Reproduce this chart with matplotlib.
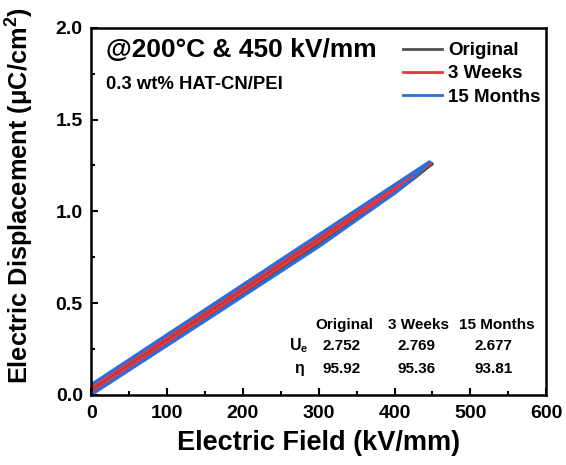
import matplotlib
matplotlib.use("Agg")
import matplotlib.pyplot as plt
from matplotlib.ticker import MultipleLocator

plt.rcParams.update({
    "font.family": ["Liberation Sans", "DejaVu Sans"],
    "font.weight": "bold",
    "mathtext.default": "regular",
})

# D-E loops: charge branch up to E_max, discharge branch back to zero field
labels = ["Original", "3 Weeks", "15 Months"]
colors = ["#505050", "#e8353b", "#2a6ede"]
E_charge = [[0, 150, 300, 400, 425, 450],
            [0, 150, 300, 400, 425, 448],
            [0, 150, 300, 400, 425, 446]]
D_charge = [[0.004, 0.412, 0.822, 1.100, 1.177, 1.260],
            [0.013, 0.424, 0.836, 1.115, 1.189, 1.265],
            [0.000, 0.402, 0.807, 1.098, 1.183, 1.270]]
E_discharge = [[450, 0], [448, 0], [446, 0]]
D_discharge = [[1.260, 0.030], [1.265, 0.038], [1.270, 0.055]]

# Energy storage summary
col_heads = ["Original", "3 Weeks", "15 Months"]
U_e = ["2.752", "2.769", "2.677"]
eta = ["95.92", "95.36", "93.81"]

fig = plt.figure(figsize=(5.66, 4.65), dpi=100)
ax = fig.add_axes([0.161, 0.151, 0.804, 0.789])

for lab, c, ec, dc, ed, dd in zip(labels, colors, E_charge, D_charge,
                                   E_discharge, D_discharge):
    ax.plot(ec + ed, dc + dd, color=c, lw=2.2, label=lab,
            solid_joinstyle="round")

ax.set_xlim(0, 600)
ax.set_ylim(0, 2.0)
ax.xaxis.set_major_locator(MultipleLocator(100))
ax.xaxis.set_minor_locator(MultipleLocator(50))
ax.yaxis.set_major_locator(MultipleLocator(0.5))
ax.yaxis.set_minor_locator(MultipleLocator(0.25))
ax.tick_params(which="both", direction="in", width=1.5, labelsize=14)
ax.tick_params(axis="x", pad=7)
ax.tick_params(axis="y", pad=6)
ax.tick_params(which="major", length=5)
ax.tick_params(which="minor", length=3)
for s in ax.spines.values():
    s.set_linewidth(1.8)
for t in ax.get_xticklabels() + ax.get_yticklabels():
    t.set_fontweight("bold")

ax.set_xlabel("Electric Field (kV/mm)", fontsize=19.5, fontweight="bold")
ax.set_ylabel("Electric Displacement (μC/cm$^2$)", fontsize=18.3,
              fontweight="bold")
ax.xaxis.set_label_coords(0.5, -0.097)
ax.yaxis.set_label_coords(-0.122, 0.542)

ax.text(20, 1.88, "@200°C & 450 kV/mm", fontsize=19, fontweight="bold",
        va="center", ha="left")
ax.text(20, 1.69, "0.3 wt% HAT-CN/PEI", fontsize=13.3, fontweight="bold",
        va="center", ha="left")

leg = ax.legend(loc="upper left", frameon=False, fontsize=13.5,
                handlelength=2.1, handletextpad=0.32, labelspacing=0.33,
                borderpad=0.4, borderaxespad=0,
                bbox_to_anchor=(0.669, 0.982))
for t in leg.get_texts():
    t.set_fontweight("bold")
for h in leg.get_lines():
    h.set_linewidth(2.0)

# summary table
head_x = [334, 432, 535]
val_x = [330, 429, 531]
ys = [0.378, 0.268, 0.143]
for x, h in zip(head_x, col_heads):
    ax.text(x, ys[0], h, fontsize=11, fontweight="bold", ha="center", va="center")
ax.text(274, ys[1], "U$_{e}$", fontsize=11.5, fontweight="bold", ha="center", va="center")
ax.text(274, ys[2], "η", fontsize=11.5, fontweight="bold", ha="center", va="center")
for x, u, e in zip(val_x, U_e, eta):
    ax.text(x, ys[1], u, fontsize=11, fontweight="bold", ha="center", va="center")
    ax.text(x, ys[2], e, fontsize=11, fontweight="bold", ha="center", va="center")

fig.savefig("out.png", dpi=100)
